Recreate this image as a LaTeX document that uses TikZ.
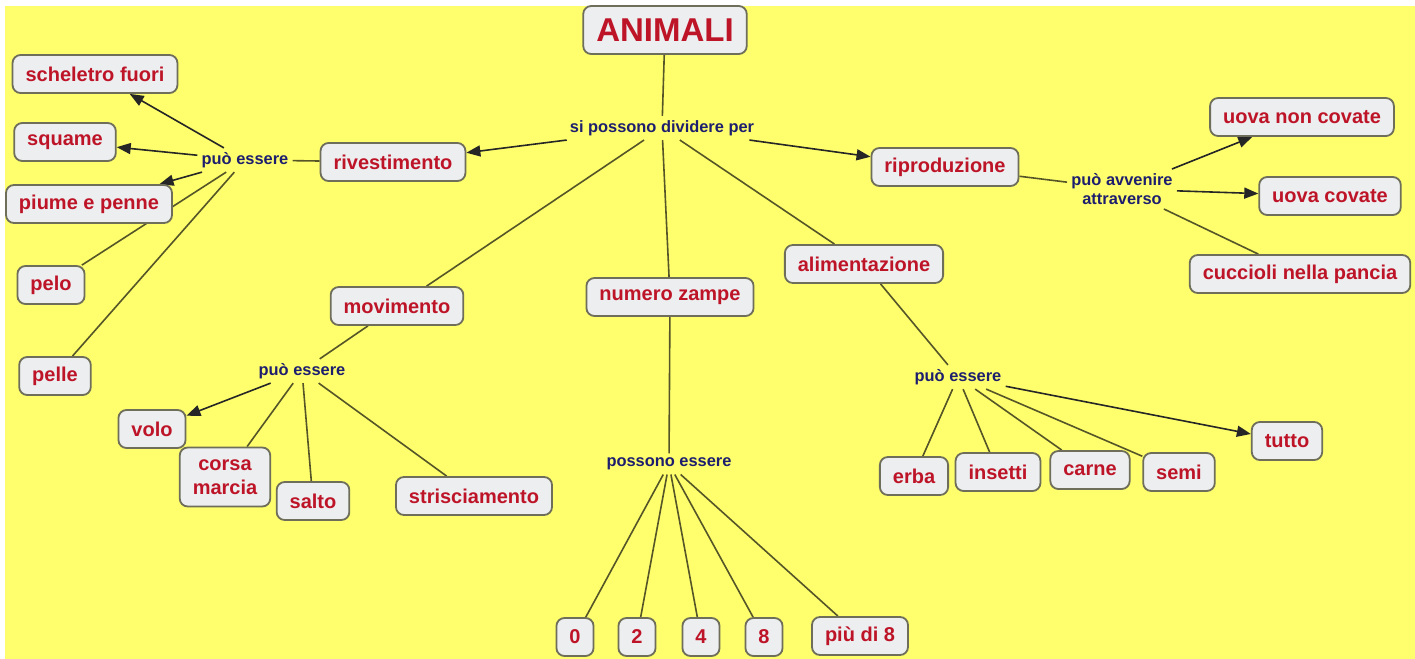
\documentclass[tikz,border=0pt]{standalone}
\usepackage{fontspec}
\setmainfont{Liberation Sans}
\usetikzlibrary{arrows.meta,backgrounds}

\definecolor{sfondo}{RGB}{255,255,110}
\definecolor{riempi}{RGB}{236,238,240}
\definecolor{bordo}{RGB}{110,110,90}
\definecolor{rosso}{RGB}{190,20,40}
\definecolor{blu}{RGB}{30,30,110}
\definecolor{filo}{RGB}{85,85,40}

\begin{document}
\begin{tikzpicture}[x=0.5pt, y=-0.5pt,
    concetto/.style={draw=bordo, fill=riempi, line width=0.9pt, rectangle, rounded corners=4pt,
        inner xsep=6.5pt, minimum height=19pt, text=rosso, font=\bfseries\fontsize{10}{12}\selectfont},
    legame/.style={text=blu, inner sep=2pt, align=center, font=\bfseries\fontsize{8.2}{9.5}\selectfont},
    linea/.style={draw=filo, line width=0.8pt},
    freccia/.style={draw=black!85, line width=0.8pt, -{Triangle[length=7pt, width=5.5pt]}}]
        \useasboundingbox (0,0) rectangle (1415,659);

        % nodi centrali
        \node[concetto, font=\bfseries\fontsize{16.5}{18}\selectfont, minimum height=24pt] (animali) at (665,30) {ANIMALI};
        \node[legame] (dividere) at (662,128) {si possono dividere per};

        % rivestimento
        \node[concetto] (rivest) at (393,162) {rivestimento};
        \node[legame] (essere1) at (245,160) {può essere};
        \node[concetto] (schel) at (95,74) {scheletro fuori};
        \node[concetto] (squame) at (65,142) {squame};
        \node[concetto] (piume) at (89,204) {piume e penne};
        \node[concetto] (pelo) at (51,285) {pelo};
        \node[concetto] (pelle) at (55,376) {pelle};

        % movimento
        \node[concetto] (movim) at (397,306) {movimento};
        \node[legame] (essere2) at (302,371) {può essere};
        \node[concetto] (volo) at (152,429) {volo};
        \node[concetto, align=center, minimum height=29.5pt] (corsa) at (225,477) {corsa\\marcia};
        \node[concetto] (salto) at (313,501) {salto};
        \node[concetto] (strisc) at (474,496) {strisciamento};

        % numero zampe
        \node[concetto] (zampe) at (670,297) {numero zampe};
        \node[legame] (essere3) at (669,464) {possono essere};
        \node[concetto] (z0) at (575,637) {0};
        \node[concetto] (z2) at (637,637) {2};
        \node[concetto] (z4) at (701,637) {4};
        \node[concetto] (z8) at (764,637) {8};
        \node[concetto] (zpiu) at (860,636) {più di 8};

        % alimentazione
        \node[concetto] (alim) at (864,264) {alimentazione};
        \node[legame] (essere4) at (958,377) {può essere};
        \node[concetto] (erba) at (914,476) {erba};
        \node[concetto] (insetti) at (998,472) {insetti};
        \node[concetto] (carne) at (1090,470) {carne};
        \node[concetto] (semi) at (1179,472) {semi};
        \node[concetto] (tutto) at (1287,441) {tutto};

        % riproduzione
        \node[concetto] (riprod) at (945,167) {riproduzione};
        \node[legame] (avvenire) at (1122,189) {può avvenire\\attraverso};
        \node[concetto] (noncov) at (1302,117) {uova non covate};
        \node[concetto] (covate) at (1330,196) {uova covate};
        \node[concetto] (cucc) at (1300,274) {cuccioli nella pancia};

        % sfondo e collegamenti
        \begin{scope}[on background layer]
            \fill[white] (0,0) rectangle (1415,659);
            \fill[sfondo] (5,6) rectangle (1415,659);

            \draw[linea] (animali) -- (dividere);
            \draw[freccia] (dividere) -- (rivest);
            \draw[freccia] (dividere) -- (riprod);
            \draw[linea] (dividere) -- (movim);
            \draw[linea] (dividere) -- (zampe);
            \draw[linea] (dividere) -- (alim);

            \draw[linea] (rivest) -- (essere1);
            \draw[freccia] (essere1) -- (schel);
            \draw[freccia] (essere1) -- (squame);
            \draw[freccia] (essere1) -- (piume);
            \draw[linea] (essere1) -- (pelo);
            \draw[linea] (essere1) -- (pelle);

            \draw[linea] (movim) -- (essere2);
            \draw[freccia] (essere2) -- (volo);
            \draw[linea] (essere2) -- (corsa);
            \draw[linea] (essere2) -- (salto);
            \draw[linea] (essere2) -- (strisc);

            \draw[linea] (zampe) -- (essere3);
            \foreach \z in {z0,z2,z4,z8,zpiu}
                \draw[linea] (essere3) -- (\z);

            \draw[linea] (alim) -- (essere4);
            \foreach \c in {erba,insetti,carne,semi}
                \draw[linea] (essere4) -- (\c);
            \draw[freccia] (essere4) -- (tutto);

            \draw[linea] (riprod) -- (avvenire);
            \draw[freccia] (avvenire) -- (noncov);
            \draw[freccia] (avvenire) -- (covate);
            \draw[linea] (avvenire) -- (cucc);
        \end{scope}
    \end{tikzpicture}
\end{document}
